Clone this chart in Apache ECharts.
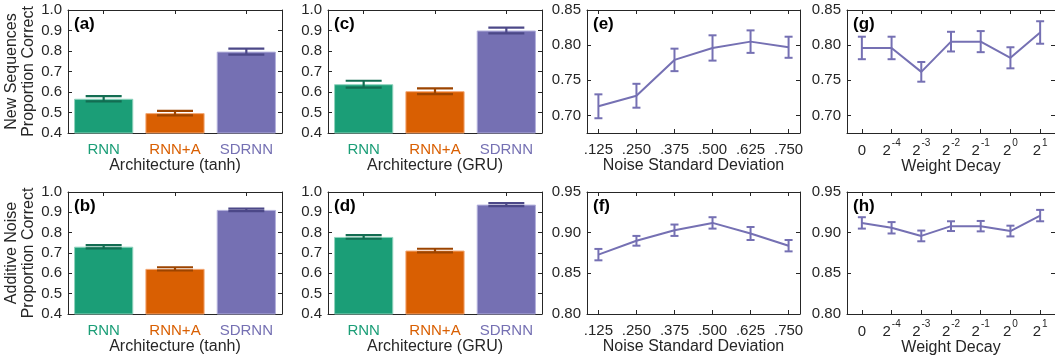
<!DOCTYPE html>
<html>
<head>
<meta charset="utf-8">
<script src="https://cdn.jsdelivr.net/npm/echarts@6/dist/echarts.min.js"></script>
<style>
  html, body { margin: 0; padding: 0; background: #fff; }
  #chart { width: 1055px; height: 358px; }
</style>
</head>
<body>
<div id="chart"></div>
<script>
// categories and tick labels
const archCats = ["RNN", "RNN+A", "SDRNN"];
const noiseValues = [0.125, 0.25, 0.375, 0.5, 0.625, 0.75];
const noiseLabels = [".125", ".250", ".375", ".500", ".625", ".750"];
const decayCats = ["0", "2^-4", "2^-3", "2^-2", "2^-1", "2^0", "2^1"];

// (a) tanh, new sequences
const aMean = [0.567, 0.497, 0.797];
const aErr = [0.013, 0.011, 0.015];
// (c) GRU, new sequences
const cMean = [0.638, 0.604, 0.900];
const cErr = [0.017, 0.014, 0.014];
// (b) tanh, additive noise
const bMean = [0.731, 0.622, 0.912];
const bErr = [0.008, 0.008, 0.006];
// (d) GRU, additive noise
const dMean = [0.779, 0.712, 0.938];
const dErr = [0.009, 0.009, 0.007];
// (e) noise std, new sequences
const eMean = [0.713, 0.728, 0.779, 0.796, 0.805, 0.797];
const eErr = [0.017, 0.017, 0.016, 0.018, 0.016, 0.015];
// (f) noise std, additive noise
const fMean = [0.873, 0.890, 0.903, 0.912, 0.899, 0.884];
const fErr = [0.007, 0.006, 0.007, 0.007, 0.008, 0.007];
// (g) weight decay, new sequences
const gMean = [0.796, 0.796, 0.762, 0.805, 0.805, 0.782, 0.818];
const gErr = [0.016, 0.016, 0.014, 0.014, 0.015, 0.015, 0.016];
// (h) weight decay, additive noise
const hMean = [0.912, 0.906, 0.896, 0.908, 0.908, 0.902, 0.921];
const hErr = [0.007, 0.007, 0.0066, 0.006, 0.0064, 0.0066, 0.007];

const FONT = "'Liberation Sans', Arial, Helvetica, sans-serif";
const INK = "#262626";
const barColors = ["#1b9e77", "#d95f02", "#7570b3"];
const barEdges = ["#8fd3bd", "#f3a977", "#b3b0dc"];
const errColors = ["#136d52", "#9c4400", "#4c4888"];
const lineColor = "#7570b3";

const colLeft = [68, 328, 587, 847];
const colWidth = [214, 214, 213, 212];
const rowTop = [10, 192];
const rowHeight = [123, 122];

const grids = [];
const xAxes = [];
const yAxes = [];
const series = [];
const titles = [];

function axisBase(gi) {
  return {
    gridIndex: gi,
    axisLine: { show: true, onZero: false, lineStyle: { color: INK, width: 1 } },
    axisTick: { show: true, inside: true, length: 4, lineStyle: { color: INK } },
    splitLine: { show: false },
    axisLabel: { color: INK, fontSize: 15, fontFamily: FONT, margin: 6 },
    nameTextStyle: { color: INK, fontSize: 16, fontFamily: FONT },
  };
}

function errRenderer(capHalf, colorFn, width) {
  return function (params, api) {
    const x = api.value(0);
    const lo = api.coord([x, api.value(1)]);
    const hi = api.coord([x, api.value(2)]);
    const c = colorFn(params.dataIndex);
    const st = { stroke: c, lineWidth: width };
    return {
      type: "group",
      children: [
        { type: "line", shape: { x1: lo[0], y1: lo[1], x2: hi[0], y2: hi[1] }, style: st },
        { type: "line", shape: { x1: lo[0] - capHalf, y1: lo[1], x2: lo[0] + capHalf, y2: lo[1] }, style: st },
        { type: "line", shape: { x1: hi[0] - capHalf, y1: hi[1], x2: hi[0] + capHalf, y2: hi[1] }, style: st },
      ],
    };
  };
}

function addGrid(row, col, letter) {
  const gi = grids.length;
  grids.push({ left: colLeft[col], top: rowTop[row], width: colWidth[col], height: rowHeight[row] });
  titles.push({
    text: "(" + letter + ")",
    left: colLeft[col] + 1,
    top: rowTop[row] + 1,
    textStyle: { fontSize: 17, fontWeight: "bold", color: "#000", fontFamily: FONT },
  });
  return gi;
}

function barPanel(row, col, letter, mean, err, xName, yName) {
  const gi = addGrid(row, col, letter);
  const xi = xAxes.length;
  const yi = yAxes.length;
  const bx = axisBase(gi);
  xAxes.push(Object.assign(bx, {
    type: "category", data: archCats, position: "bottom",
    name: xName, nameLocation: "middle", nameGap: 25,
    axisTick: Object.assign(bx.axisTick, { alignWithLabel: true }),
    axisLabel: Object.assign(bx.axisLabel, { margin: 9, color: (v, i) => barColors[i] }),
  }));
  const tx = axisBase(gi);
  xAxes.push(Object.assign(tx, {
    type: "category", data: archCats, position: "top",
    axisTick: Object.assign(tx.axisTick, { alignWithLabel: true }),
    axisLabel: { show: false },
  }));
  const by = axisBase(gi);
  const yCfg = { type: "value", min: 0.4, max: 1.0, interval: 0.1 };
  yAxes.push(Object.assign(by, yCfg, {
    position: "left",
    axisLabel: Object.assign(by.axisLabel, { formatter: v => v.toFixed(1) }),
  }));
  if (yName) {
    Object.assign(yAxes[yi], {
      name: yName, nameLocation: "middle", nameRotate: 90, nameGap: 31,
      nameTextStyle: { color: INK, fontSize: 16, fontFamily: FONT, lineHeight: 17 },
    });
  }
  yAxes.push(Object.assign(axisBase(gi), yCfg, { position: "right", axisLabel: { show: false } }));

  series.push({
    type: "bar", xAxisIndex: xi, yAxisIndex: yi, barWidth: "83%",
    data: mean.map((v, i) => ({
      value: v,
      itemStyle: { color: barColors[i], borderColor: barEdges[i], borderWidth: 1 },
    })),
    z: 2,
  });
  series.push({
    type: "custom", xAxisIndex: xi, yAxisIndex: yi, z: 5,
    renderItem: errRenderer(18, i => errColors[i], 2.2),
    encode: { x: 0, y: [1, 2] },
    data: mean.map((v, i) => [i, v - err[i], v + err[i]]),
  });
}

function noisePanel(row, col, letter, mean, err, yMin, yMax, yTicks) {
  const gi = addGrid(row, col, letter);
  const xi = xAxes.length;
  const yi = yAxes.length;
  const xCfg = { type: "value", min: 0.0875, max: 0.7875 };
  const bx = axisBase(gi);
  xAxes.push(Object.assign(bx, xCfg, {
    position: "bottom",
    name: "Noise Standard Deviation", nameLocation: "middle", nameGap: 25,
    axisTick: Object.assign(bx.axisTick, { customValues: noiseValues }),
    axisLabel: Object.assign(bx.axisLabel, {
      margin: 9, customValues: noiseValues,
      formatter: v => noiseLabels[noiseValues.findIndex(n => Math.abs(n - v) < 1e-6)],
    }),
  }));
  const tx = axisBase(gi);
  xAxes.push(Object.assign(tx, xCfg, {
    position: "top",
    axisTick: Object.assign(tx.axisTick, { customValues: noiseValues }),
    axisLabel: { show: false },
  }));
  lineYAxes(gi, yMin, yMax, yTicks);
  lineSeries(xi, yi, noiseValues, mean, err);
}

function decayPanel(row, col, letter, mean, err, yMin, yMax, yTicks) {
  const gi = addGrid(row, col, letter);
  const xi = xAxes.length;
  const yi = yAxes.length;
  const bx = axisBase(gi);
  xAxes.push(Object.assign(bx, {
    type: "category", data: decayCats, position: "bottom",
    name: "Weight Decay", nameLocation: "middle", nameGap: 25,
    axisTick: Object.assign(bx.axisTick, { alignWithLabel: true, interval: 0 }),
    axisLabel: Object.assign(bx.axisLabel, {
      margin: 5, interval: 0, hideOverlap: false,
      formatter: v => v.startsWith("2^") ? "{b|2}{s|" + v.slice(2) + "}" : "{b|" + v + "}",
      rich: {
        b: { fontSize: 15, color: INK, fontFamily: FONT, lineHeight: 20, verticalAlign: "bottom" },
        s: { fontSize: 10, color: INK, fontFamily: FONT, lineHeight: 20, verticalAlign: "top", padding: [0, 0, 0, 1] },
      },
    }),
  }));
  const tx = axisBase(gi);
  xAxes.push(Object.assign(tx, {
    type: "category", data: decayCats, position: "top",
    axisTick: Object.assign(tx.axisTick, { alignWithLabel: true, interval: 0 }),
    axisLabel: { show: false },
  }));
  lineYAxes(gi, yMin, yMax, yTicks);
  lineSeries(xi, yi, decayCats.map((c, i) => i), mean, err);
}

function lineYAxes(gi, yMin, yMax, yTicks) {
  const by = axisBase(gi);
  yAxes.push(Object.assign(by, {
    type: "value", min: yMin, max: yMax, position: "left",
    axisTick: Object.assign(by.axisTick, { customValues: yTicks }),
    axisLabel: Object.assign(by.axisLabel, { customValues: yTicks, formatter: v => v.toFixed(2) }),
  }));
  const ry = axisBase(gi);
  yAxes.push(Object.assign(ry, {
    type: "value", min: yMin, max: yMax, position: "right",
    axisTick: Object.assign(ry.axisTick, { customValues: yTicks }),
    axisLabel: { show: false },
  }));
}

function lineSeries(xi, yi, xs, mean, err) {
  series.push({
    type: "line", xAxisIndex: xi, yAxisIndex: yi,
    data: xs.map((x, i) => [x, mean[i]]),
    symbol: "none", lineStyle: { color: lineColor, width: 2 }, z: 3,
  });
  series.push({
    type: "custom", xAxisIndex: xi, yAxisIndex: yi, z: 4,
    renderItem: errRenderer(4, () => lineColor, 2),
    encode: { x: 0, y: [1, 2] },
    data: xs.map((x, i) => [x, mean[i] - err[i], mean[i] + err[i]]),
  });
}

const topTicks = [0.70, 0.75, 0.80, 0.85];
const botTicks = [0.80, 0.85, 0.90, 0.95];

barPanel(0, 0, "a", aMean, aErr, "Architecture (tanh)", "New Sequences\nProportion Correct");
barPanel(0, 1, "c", cMean, cErr, "Architecture (GRU)");
noisePanel(0, 2, "e", eMean, eErr, 0.675, 0.85, topTicks);
decayPanel(0, 3, "g", gMean, gErr, 0.675, 0.85, topTicks);
barPanel(1, 0, "b", bMean, bErr, "Architecture (tanh)", "Additive Noise\nProportion Correct");
barPanel(1, 1, "d", dMean, dErr, "Architecture (GRU)");
noisePanel(1, 2, "f", fMean, fErr, 0.8, 0.95, botTicks);
decayPanel(1, 3, "h", hMean, hErr, 0.8, 0.95, botTicks);

const chart = echarts.init(document.getElementById("chart"), null, { renderer: "canvas" });
chart.setOption({
  animation: false,
  backgroundColor: "#fff",
  textStyle: { fontFamily: FONT },
  title: titles,
  grid: grids,
  xAxis: xAxes,
  yAxis: yAxes,
  series: series,
});
</script>
</body>
</html>
